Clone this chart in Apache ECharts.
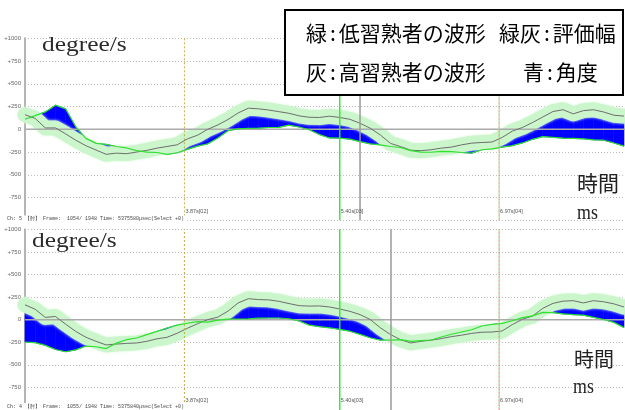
<!DOCTYPE html>
<html>
<head>
<meta charset="utf-8">
<script src="https://cdn.jsdelivr.net/npm/echarts@6/dist/echarts.min.js"></script>
<style>
  html, body { margin: 0; padding: 0; background: #fff; }
  #chart { width: 625px; height: 410px; }
</style>
</head>
<body>
<div id="chart"></div>
<script>
// Angular velocity (degree/s), sampled every 0.1 s from 2.3 s
const timeStart = 2.3;
const timeStep = 0.1;

// Channel 5: skilled (gray) and unskilled (green) waveforms
const upperSkilled = [
  160, 120, 15, 15, -50, -120, -180, -228, -275, -262,
  -268, -250, -232, -207, -189, -170, -105, -65, 0, 48,
  108, 180, 232, 225, 212, 194, 176, 148, 132, 130,
  144, 130, 110, 66, 12, -62, -155, -190, -230, -235,
  -225, -207, -196, -171, -152, -145, -140, -90, -20, 20,
  75, 135, 195, 215, 170, 205, 215, 190, 155, 145
];
const upperNovice = [
  110, 150, 191, 265, 225, 28, -100, -155, -165, -189,
  -205, -235, -250, -255, -275, -258, -220, -185, -160, -95,
  -15, 5, 10, 12, 20, 22, 45, 25, -5, -58,
  -95, -98, -108, -135, -160, -171, -189, -200, -235, -250,
  -252, -243, -245, -255, -262, -225, -215, -196, -180, -150,
  -110, -80, -88, -98, -100, -105, -116, -120, -150, -185
];

// Channel 4: skilled (gray) and unskilled (green) waveforms
const lowerSkilled = [
  164, 115, 25, 35, -50, -130, -195, -240, -280, -270,
  -263, -258, -240, -212, -195, -150, -95, -45, 0, 28,
  95, 185, 232, 222, 219, 203, 178, 155, 150, 152,
  140, 118, 92, 56, 2, -90, -165, -222, -258, -240,
  -227, -210, -188, -172, -152, -139, -137, -125, -55, 5,
  40, 125, 180, 205, 210, 185, 210, 198, 175, 140
];
const lowerNovice = [
  -248, -255, -285, -330, -355, -335, -292, -300, -320, -260,
  -222, -203, -166, -130, -92, -60, -40, -22, -28, -5,
  5, 7, 8, 16, 18, 18, 10, -15, -60, -78,
  -90, -108, -128, -163, -200, -226, -226, -222, -240, -232,
  -225, -192, -162, -137, -112, -70, -53, -42, -12, 22,
  42, 80, 78, 64, 55, 50, 25, 2, -30, -88
];

// Frame markers (s) and their captions
const markerTimes = [3.87, 5.40, 6.97];
const markerLabels = ['3.87s[02]', '5.40s[03]', '6.97s[04]'];
// Playback cursor per panel (s)
const cursorTimes = [5.60, 5.905];
// Status rows under each panel
const statusRows = [
  'Ch: 5 【肘】 Frame:  1054/ 1948 Time: 5375580μsec(Select +0)',
  'Ch: 4 【肘】 Frame:  1055/ 1948 Time: 5375840μsec(Select +0)'
];

const xMin = 2.3, xMax = 8.21;
const yMin = -1000, yMax = 1000, yStep = 250;

const times = upperSkilled.map((_, i) => +(timeStart + i * timeStep).toFixed(2));
const pairs = arr => arr.map((v, i) => [times[i], v]);

function panelSeries(gi, skilled, novice) {
  const common = {
    xAxisIndex: gi, yAxisIndex: gi, silent: true, animation: false
  };
  const line = Object.assign({ type: 'line', symbol: 'none' }, common);
  // one quad per sample interval, between the two waveforms
  const segs = [];
  for (let i = 0; i < times.length - 1; i++) {
    segs.push([times[i], skilled[i], novice[i], times[i + 1], skilled[i + 1], novice[i + 1]]);
  }
  const vline = (t) => [[t, yMin], [t, yMax]];
  return [
    // deviation between the two waveforms (blue)
    Object.assign({}, common, {
      type: 'custom', name: '角度' + gi, data: segs, z: 1,
      encode: { x: [0, 3], y: [1, 2, 4, 5] },
      renderItem: (params, api) => {
        const a = api.coord([api.value(0), api.value(1)]);
        const b = api.coord([api.value(3), api.value(4)]);
        const c = api.coord([api.value(3), api.value(5)]);
        const d = api.coord([api.value(0), api.value(2)]);
        return {
          type: 'polygon', shape: { points: [a, b, c, d] },
          style: { fill: '#0000ff', stroke: '#0000ff', lineWidth: 0.6 }
        };
      }
    }),
    // tolerance band around the skilled waveform
    Object.assign({}, line, {
      name: '評価幅' + gi, data: pairs(skilled),
      lineStyle: { width: 15, color: '#cbf5cb', cap: 'round', join: 'round',
                   shadowColor: '#dcf9dc', shadowBlur: 3 },
      z: 2
    }),
    // zero line
    Object.assign({}, line, {
      name: 'zero' + gi, data: [[xMin, 0], [xMax, 0]],
      lineStyle: { width: 1.5, color: '#aaaaaa' }, z: 3
    }),
    Object.assign({}, line, {
      name: '高習熟者' + gi, data: pairs(skilled),
      lineStyle: { width: 1, color: '#6e6e6e' }, z: 4
    }),
    Object.assign({}, line, {
      name: '低習熟者' + gi, data: pairs(novice),
      lineStyle: { width: 1.2, color: '#2fe02f' }, z: 5
    }),
    // frame markers and cursor
    Object.assign({}, line, {
      data: vline(markerTimes[0]),
      lineStyle: { width: 1, color: '#bcb040', type: [2, 2] }, z: 6
    }),
    Object.assign({}, line, {
      data: vline(markerTimes[1]),
      lineStyle: { width: 1.5, color: '#3ae63a' }, z: 6
    }),
    Object.assign({}, line, {
      data: vline(cursorTimes[gi]),
      lineStyle: { width: 1.5, color: '#9a9a9a' }, z: 6
    }),
    Object.assign({}, line, {
      data: vline(markerTimes[2]),
      lineStyle: { width: 1, color: '#ee8a62', type: [2, 2] }, z: 6
    }),
    Object.assign({}, line, {
      data: vline(markerTimes[2]),
      lineStyle: { width: 1, color: '#86d886', type: [2, 2], dashOffset: 2 }, z: 6
    })
  ];
}

function yAxisFor(gi) {
  return {
    gridIndex: gi, type: 'value', min: yMin, max: yMax, interval: yStep,
    axisLine: { show: true, lineStyle: { color: '#b4b4b4', width: 2 } },
    axisTick: { show: false },
    axisLabel: {
      fontSize: 6, color: '#666', margin: 4, fontFamily: 'Liberation Sans',
      formatter: v => v === yMin ? '' : (v > 0 ? '+' + v : String(v))
    },
    splitLine: { lineStyle: { color: '#bdbdbd', width: 1, type: [1, 2] } }
  };
}

const chart = echarts.init(document.getElementById('chart'), null, { renderer: 'canvas' });

const monoFont = 'Liberation Mono';
const serifFont = 'Liberation Serif';
const cjkFont = 'Noto Sans CJK JP';

const legendRich = {
  g: { fontFamily: cjkFont, fontSize: 21, color: '#1f8c1f' },
  lg: { fontFamily: cjkFont, fontSize: 21, color: '#93ee93' },
  b: { fontFamily: cjkFont, fontSize: 21, color: '#1414ff' },
  k: { fontFamily: cjkFont, fontSize: 21, color: '#151515' },
  c: { fontFamily: cjkFont, fontSize: 21, color: '#151515', padding: [0, 3, 0, 3] }
};

function textEl(id, text, x, y, size, family, color, extra, scaleX) {
  return {
    id: id, type: 'text', x: x, y: y, z: 20, silent: true, scaleX: scaleX || 1,
    style: Object.assign({ text: text, fill: color, font: size + 'px "' + family + '"',
                           verticalAlign: 'middle', align: 'left' }, extra || {})
  };
}

chart.setOption({
  animation: false,
  backgroundColor: '#ffffff',
  grid: [
    { left: 25, right: 0, top: 38.3, height: 182 },
    { left: 25, right: 0, top: 229.3, height: 181.4 }
  ],
  xAxis: [
    { gridIndex: 0, type: 'value', min: xMin, max: xMax, show: false },
    { gridIndex: 1, type: 'value', min: xMin, max: xMax, show: false }
  ],
  yAxis: [yAxisFor(0), yAxisFor(1)],
  series: panelSeries(0, upperSkilled, upperNovice).concat(panelSeries(1, lowerSkilled, lowerNovice)),
  graphic: [
    // unit captions
    textEl('unitTop', 'degree/s', 42, 45, 21, serifFont, '#2a2a2a', null, 1.21),
    textEl('unitBottom', 'degree/s', 32, 241.5, 21, serifFont, '#2a2a2a', null, 1.21),
    textEl('timeTop', '時間', 577, 183, 21, cjkFont, '#222'),
    textEl('msTop', 'ms', 577, 213, 21, serifFont, '#222', null, 0.85),
    textEl('timeBottom', '時間', 574, 359, 20, cjkFont, '#222'),
    textEl('msBottom', 'ms', 573, 387, 21, serifFont, '#222', null, 0.85),
    // status rows
    textEl('statusTop', statusRows[0], 7, 219, 5, monoFont, '#444', { backgroundColor: '#fff', padding: [1, 2, 1, 0] }),
    textEl('statusBottom', statusRows[1], 7, 406.5, 5, monoFont, '#444', { backgroundColor: '#fff', padding: [1, 2, 1, 0] }),
    // legend box
    {
      id: 'legendBox', type: 'rect', z: 30, silent: true,
      shape: { x: 285, y: 10, width: 338, height: 85 },
      style: { fill: '#ffffff', stroke: '#000000', lineWidth: 2 }
    },
    { id: 'leg1', type: 'text', z: 31, x: 306, y: 33, silent: true,
      style: { text: '{g|緑}{c|:}{k|低習熟者の波形}', rich: legendRich, verticalAlign: 'middle' } },
    { id: 'leg2', type: 'text', z: 31, x: 499, y: 33, silent: true,
      style: { text: '{lg|緑灰}{c|:}{k|評価幅}', rich: legendRich, verticalAlign: 'middle' } },
    { id: 'leg3', type: 'text', z: 31, x: 306, y: 72, silent: true,
      style: { text: '{k|灰}{c|:}{k|高習熟者の波形}', rich: legendRich, verticalAlign: 'middle' } },
    { id: 'leg4', type: 'text', z: 31, x: 523, y: 72, silent: true,
      style: { text: '{b|青}{c|:}{k|角度}', rich: legendRich, verticalAlign: 'middle' } }
  ]
});

// marker captions placed at the axis position of each marker
const captions = [];
[0, 1].forEach(gi => {
  markerTimes.forEach((t, i) => {
    const px = chart.convertToPixel({ gridIndex: gi }, [t, -900]);
    captions.push({
      id: 'cap' + gi + '_' + i, type: 'text', z: 15, silent: true, x: px[0] + 1, y: px[1],
      style: { text: markerLabels[i], fill: '#555', font: '5.5px "Liberation Sans"',
               verticalAlign: 'middle', align: 'left' }
    });
  });
});
chart.setOption({ graphic: captions });
</script>
</body>
</html>
